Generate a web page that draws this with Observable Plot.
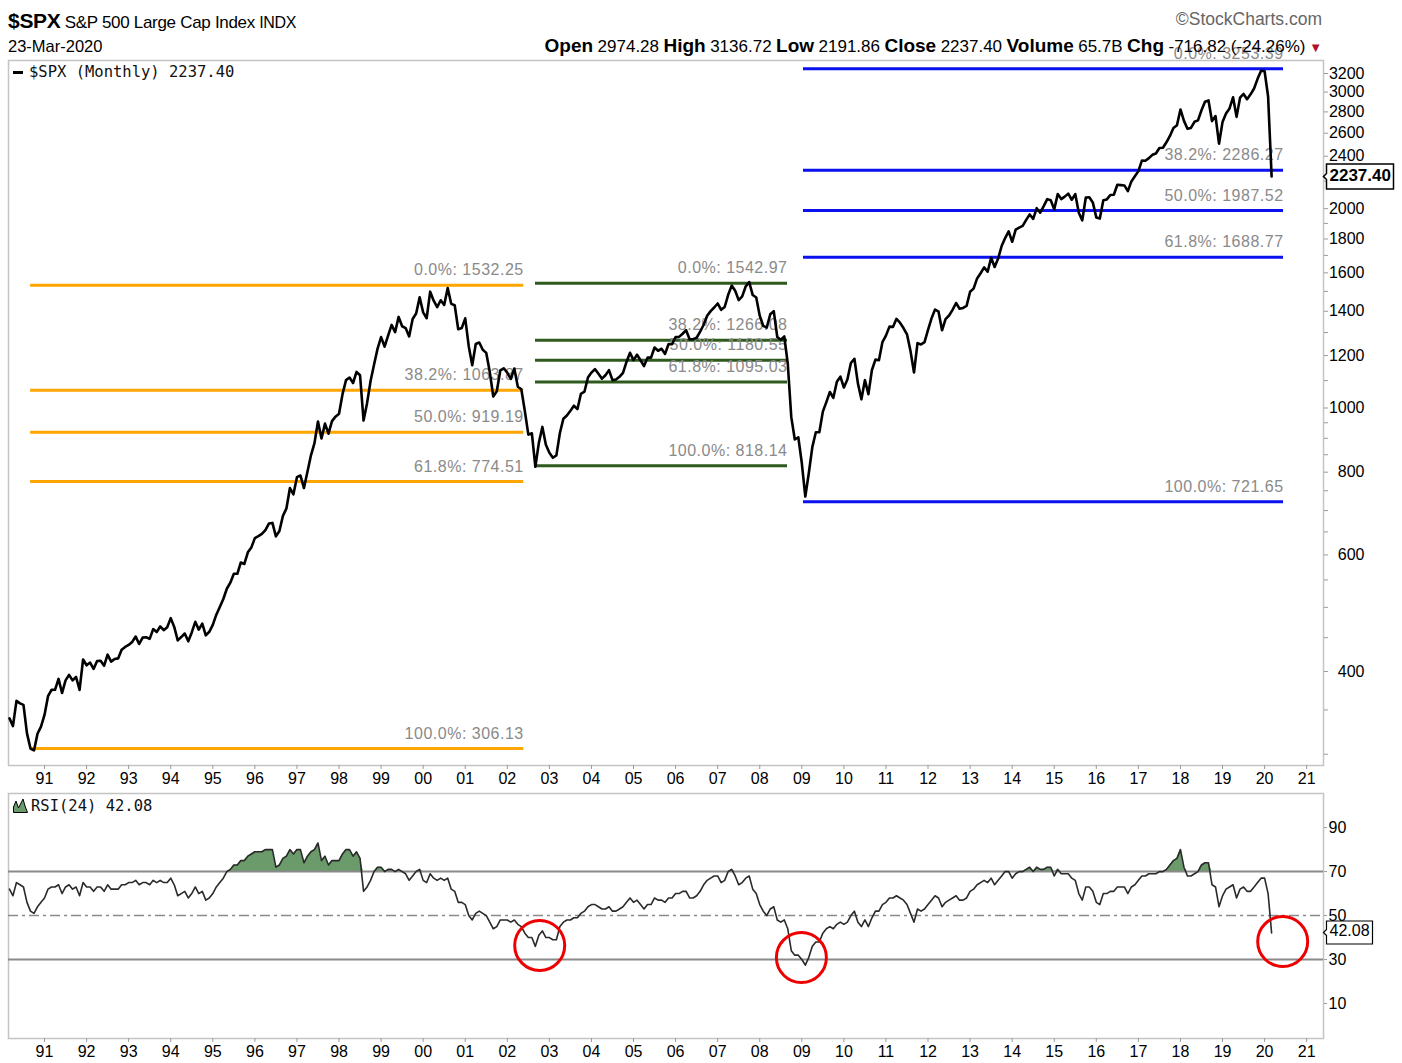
<!DOCTYPE html>
<html>
<head>
<meta charset="utf-8">
<script src="https://cdn.jsdelivr.net/npm/d3@7"></script>
<script src="https://cdn.jsdelivr.net/npm/@observablehq/plot@0.6"></script>
<style>
  body { margin: 0; background: #fff; }
  #root { position: relative; width: 1402px; height: 1063px; overflow: hidden;
          font-family: "Liberation Sans Narrow", "Arial Narrow", "Liberation Sans", Arial, sans-serif; }
  .abs { position: absolute; white-space: nowrap; line-height: 1; z-index: 5; }
  .mono { font-family: "DejaVu Sans Mono", monospace; font-size: 15.5px; color: #111; }
  #chartMain { position: absolute; left: 0; top: 0; }
  #chartRsi { position: absolute; left: 0; top: 790px; }
  .b { font-weight: bold; font-size: 19px; }
  .v { font-size: 17px; }
</style>
</head>
<body>
<div id="root">
  <div id="chartMain"></div>
  <div id="chartRsi"></div>

  <div class="abs" style="left:8px; top:10px; letter-spacing:-0.3px;">
    <span style="font-weight:bold; font-size:21px;">$SPX</span>
    <span style="font-size:17px;">S&amp;P 500 Large Cap Index</span>
    <span style="font-size:16px;">INDX</span>
  </div>
  <div class="abs" style="right:80px; top:11px; font-size:17.5px; color:#666;">&copy;StockCharts.com</div>
  <div class="abs" style="left:8px; top:38px; font-size:16.5px;">23-Mar-2020</div>
  <div class="abs" style="right:80px; top:36px;">
    <span class="b">Open</span> <span class="v">2974.28</span>
    <span class="b">High</span> <span class="v">3136.72</span>
    <span class="b">Low</span> <span class="v">2191.86</span>
    <span class="b">Close</span> <span class="v">2237.40</span>
    <span class="b">Volume</span> <span class="v">65.7B</span>
    <span class="b">Chg</span> <span class="v">-716.82 (-24.26%)</span><span style="color:#b0102a; font-size:13px;"> &#9660;</span>
  </div>
  <div class="abs mono" style="left:13px; top:65px;">
    <span style="display:inline-block; width:10px; height:3px; background:#000; vertical-align:middle; margin-right:6px;"></span>$SPX (Monthly) 2237.40
  </div>
  <div class="abs mono" style="left:13px; top:798px;">
    <svg width="15" height="15" style="vertical-align:-2px; margin-right:3px;"><path d="M0.5,14.5 L0.5,9 L3,3 L5.5,10 L8,5 L10,1 L12,8 L14.5,14.5 Z" fill="#6b9a6b" stroke="#000" stroke-width="1"/></svg>RSI(24) 42.08
  </div>
</div>

<script>
// ---------------- DATA ----------------
// S&P 500 monthly closes, March 1990 .. March 2020
const firstMonth = { year: 1990, month: 3 };
const spxMonthlyClose = [
  // 1990 (Mar–Dec)
  339.94, 330.80, 361.23, 358.02, 356.15, 322.56, 306.05, 304.00, 322.22, 330.22,
  // 1991
  343.93, 367.07, 375.22, 375.35, 389.83, 371.16, 387.81, 395.43, 387.86, 392.46, 375.22, 417.09,
  // 1992
  408.79, 412.70, 403.69, 414.95, 415.35, 408.14, 424.21, 414.03, 417.80, 418.68, 431.35, 435.71,
  // 1993
  438.78, 443.38, 451.67, 440.19, 450.19, 450.53, 448.13, 463.56, 458.93, 467.83, 461.79, 466.45,
  // 1994
  481.61, 467.14, 445.77, 450.91, 456.50, 444.27, 458.26, 475.49, 462.69, 472.35, 453.69, 459.27,
  // 1995
  470.42, 487.39, 500.71, 514.71, 533.40, 544.75, 562.06, 561.88, 584.41, 581.50, 605.37, 615.93,
  // 1996
  636.02, 640.43, 645.50, 654.17, 669.12, 670.63, 639.95, 651.99, 687.33, 705.27, 757.02, 740.74,
  // 1997
  786.16, 790.82, 757.12, 801.34, 848.28, 885.14, 954.29, 899.47, 947.28, 914.62, 955.40, 970.43,
  // 1998
  980.28, 1049.34, 1101.75, 1111.75, 1090.82, 1133.84, 1120.67, 957.28, 1017.01, 1098.67, 1163.63, 1229.23,
  // 1999
  1279.64, 1238.33, 1286.37, 1335.18, 1301.84, 1372.71, 1328.72, 1320.41, 1282.71, 1362.93, 1388.91, 1469.25,
  // 2000
  1394.46, 1366.42, 1498.58, 1452.43, 1420.60, 1454.60, 1430.83, 1517.68, 1436.51, 1429.40, 1314.95, 1320.28,
  // 2001
  1366.01, 1239.94, 1160.33, 1249.46, 1255.82, 1224.38, 1211.23, 1133.58, 1040.94, 1059.78, 1139.45, 1148.08,
  // 2002
  1130.20, 1106.73, 1147.39, 1076.92, 1067.14, 989.82, 911.62, 916.07, 815.28, 885.76, 936.31, 879.82,
  // 2003
  855.70, 841.15, 848.18, 916.92, 963.59, 974.50, 990.31, 1008.01, 995.97, 1050.71, 1058.20, 1111.92,
  // 2004
  1131.13, 1144.94, 1126.21, 1107.30, 1120.68, 1140.84, 1101.72, 1104.24, 1114.58, 1130.20, 1173.82, 1211.92,
  // 2005
  1181.27, 1203.60, 1180.59, 1156.85, 1191.50, 1191.33, 1234.18, 1220.33, 1228.81, 1207.01, 1249.48, 1248.29,
  // 2006
  1280.08, 1280.66, 1294.83, 1310.61, 1270.09, 1270.20, 1276.66, 1303.82, 1335.85, 1377.94, 1400.63, 1418.30,
  // 2007
  1438.24, 1406.82, 1420.86, 1482.37, 1530.62, 1503.35, 1455.27, 1473.99, 1526.75, 1549.38, 1481.14, 1468.36,
  // 2008
  1378.55, 1330.63, 1322.70, 1385.59, 1400.38, 1280.00, 1267.38, 1282.83, 1166.36, 968.75, 896.24, 903.25,
  // 2009
  825.88, 735.09, 797.87, 872.81, 919.14, 919.32, 987.48, 1020.62, 1057.08, 1036.19, 1095.63, 1115.10,
  // 2010
  1073.87, 1104.49, 1169.43, 1186.69, 1089.41, 1030.71, 1101.60, 1049.33, 1141.20, 1183.26, 1180.55, 1257.64,
  // 2011
  1286.12, 1327.22, 1325.83, 1363.61, 1345.20, 1320.64, 1292.28, 1218.89, 1131.42, 1253.30, 1246.96, 1257.60,
  // 2012
  1312.41, 1365.68, 1408.47, 1397.91, 1310.33, 1362.16, 1379.32, 1406.58, 1440.67, 1412.16, 1416.18, 1426.19,
  // 2013
  1498.11, 1514.68, 1569.19, 1597.57, 1630.74, 1606.28, 1685.73, 1632.97, 1681.55, 1756.54, 1805.81, 1848.36,
  // 2014
  1782.59, 1859.45, 1872.34, 1883.95, 1923.57, 1960.23, 1930.67, 2003.37, 1972.29, 2018.05, 2067.56, 2058.90,
  // 2015
  1994.99, 2104.50, 2067.89, 2085.51, 2107.39, 2063.11, 2103.84, 1972.18, 1920.03, 2079.36, 2080.41, 2043.94,
  // 2016
  1940.24, 1932.23, 2059.74, 2065.30, 2096.95, 2098.86, 2173.60, 2170.95, 2168.27, 2126.15, 2198.81, 2238.83,
  // 2017
  2278.87, 2363.64, 2362.72, 2384.20, 2411.80, 2423.41, 2470.30, 2471.65, 2519.36, 2575.26, 2647.58, 2673.61,
  // 2018
  2823.81, 2713.83, 2640.87, 2648.05, 2705.27, 2718.37, 2816.29, 2901.52, 2913.98, 2711.74, 2760.17, 2506.85,
  // 2019
  2704.10, 2784.49, 2834.40, 2945.83, 2752.06, 2941.76, 2980.38, 2926.46, 2976.74, 3037.56, 3140.98, 3230.78,
  // 2020 (Jan–Mar)
  3225.52, 2954.22, 2237.40
];

// RSI(24) monthly values, March 1990 .. March 2020
const rsi24 = [
  // 1990 (Mar–Dec)
  62, 59, 65, 64, 63, 56, 52, 51, 54, 56,
  // 1991
  58, 62, 63, 63, 64, 60, 63, 64, 62, 63, 59, 65,
  // 1992
  63, 63, 61, 63, 63, 61, 64, 62, 62, 62, 64, 64,
  // 1993
  65, 65, 66, 64, 65, 65, 64, 66, 65, 66, 65, 65,
  // 1994
  67, 64, 59, 60, 61, 58, 60, 63, 60, 61, 57, 58,
  // 1995
  60, 63, 65, 67, 70, 71, 73, 73, 75, 75, 77, 78,
  // 1996
  79, 79, 79, 80, 80, 80, 72, 73, 76, 77, 80, 78,
  // 1997
  80, 80, 74, 77, 79, 80, 83, 75, 77, 73, 75, 75,
  // 1998
  75, 78, 80, 80, 77, 79, 76, 61, 63, 66, 70, 72,
  // 1999
  72, 70, 71, 71, 70, 71, 70, 69, 66, 68, 70, 71,
  // 2000
  66, 65, 69, 67, 66, 67, 66, 67, 62, 61, 56, 56,
  // 2001
  55, 50, 48, 51, 52, 51, 50, 47, 44, 45, 48, 48,
  // 2002
  48, 47, 48, 46, 45, 42, 40, 40, 36, 41, 43, 40,
  // 2003
  40, 39, 39, 45, 47, 48, 48, 49, 49, 51, 52, 54,
  // 2004
  55, 55, 54, 53, 53, 54, 52, 52, 53, 54, 56, 58,
  // 2005
  56, 57, 55, 53, 55, 55, 58, 57, 57, 56, 58, 58,
  // 2006
  60, 60, 61, 61, 58, 58, 59, 61, 64, 66, 67, 68,
  // 2007
  68, 65, 66, 70, 71, 68, 64, 65, 67, 68, 62, 60,
  // 2008
  55, 52, 50, 53, 54, 48, 47, 48, 44, 34, 32, 32,
  // 2009
  30, 27.5, 31, 36, 38, 38, 42, 44, 45, 44, 46, 47,
  // 2010
  46, 47, 50, 52, 47, 45, 48, 45, 49, 52, 52, 55,
  // 2011
  56, 58, 58, 59, 58, 57, 55, 51, 47, 53, 52, 53,
  // 2012
  55, 57, 59, 58, 54, 56, 57, 58, 59, 57, 57, 58,
  // 2013
  61, 62, 64, 65, 66, 65, 67, 64, 66, 68, 70, 70,
  // 2014
  67, 69, 70, 70, 71, 72, 70, 72, 71, 71, 72, 72,
  // 2015
  68, 71, 69, 69, 69, 67, 66, 60, 57, 63, 63, 61,
  // 2016
  56, 55, 60, 60, 61, 61, 63, 63, 63, 60, 63, 64,
  // 2017
  66, 68, 68, 69, 69, 69, 70, 70, 71, 73, 75, 76,
  // 2018
  80, 72, 68, 68, 69, 70, 73, 74, 74, 64, 63, 54,
  // 2019
  59, 62, 63, 64, 58, 62, 63, 61, 61, 63, 65, 67,
  // 2020 (Jan–Mar)
  67, 60, 42.08
];

// Fibonacci retracement studies
const fibPercents = ["0.0%", "38.2%", "50.0%", "61.8%", "100.0%"];
const fibOrangeLevels = [1532.25, 1063.87, 919.19, 774.51, 306.13];
const fibGreenLevels  = [1542.97, 1266.08, 1180.55, 1095.03, 818.14];
const fibBlueLevels   = [3253.39, 2286.27, 1987.52, 1688.77, 721.65];
const fibOrangeSpan = [1990.67, 2002.39];
const fibGreenSpan  = [2002.67, 2008.66];
const fibBlueSpan   = [2009.04, 2020.45];

// Axis ticks
const yearTicks = d3.range(1991, 2022);
const priceTickLabels = [400, 600, 800, 1000, 1200, 1400, 1600, 1800, 2000, 2400, 2600, 2800, 3000, 3200];
const priceMinorTicks = [300, 350, 400, 450, 500, 550, 600, 650, 700, 750, 800, 850, 900, 950, 1000, 1100, 1200, 1300, 1400, 1500, 1600, 1700, 1800, 1900, 2000, 2200, 2400, 2600, 2800, 3000, 3200];
const rsiTickLabels = [10, 30, 50, 70, 90];
const rsiBands = [30, 70];
const rsiMid = [50];

// Annotation circles (year, RSI value)
const circleYears  = [2002.77, 2008.99, 2020.43];
const circleValues = [36.4, 30.9, 38.2];

const lastClose = 2237.40;
const lastRsi = 42.08;

// ---------------- BUILD ----------------
const toYear = i => firstMonth.year + (firstMonth.month - 1 + i) / 12;
const priceRows = spxMonthlyClose.map((v, i) => ({ t: toYear(i), v }));
const rsiRows = rsi24.map((v, i) => ({ t: toYear(i), v }));
const circleRows = circleYears.map((t, i) => ({ t, v: circleValues[i] }));

const xDomain = [1990.144, 2021.40];
const fmtYear = d => String(d % 100).padStart(2, "0");
const NARROW = '"Liberation Sans Narrow", "Arial Narrow", "Liberation Sans", Arial, sans-serif';
const SANS = '"Liberation Sans", Arial, sans-serif';

function fibMarks(levels, span, color) {
  const rows = levels.map((v, i) => ({ y: v, x1: span[0], x2: span[1], label: `${fibPercents[i]}: ${v.toFixed(2)}` }));
  return [
    Plot.ruleY(rows, { y: "y", x1: "x1", x2: "x2", stroke: color, strokeWidth: 3 }),
    Plot.text(rows, { x: "x2", y: "y", text: "label", textAnchor: "end", dy: -15, fill: "#8a8a8a",
                      fontSize: 16, fontFamily: SANS })
  ];
}

const mainChart = Plot.plot({
  width: 1402, height: 790,
  marginLeft: 8, marginRight: 79, marginTop: 60, marginBottom: 25,
  x: { domain: xDomain, axis: null },
  y: { type: "log", domain: [288.5, 3348], axis: null },
  style: { fontFamily: NARROW, fontSize: "16px", color: "#000", background: "transparent", overflow: "visible" },
  marks: [
    Plot.frame({ stroke: "#c4c4c4", strokeWidth: 1.5 }),
    Plot.axisX({ anchor: "bottom", ticks: yearTicks, tickFormat: fmtYear, tickSize: 4, tickPadding: 3,
                 stroke: "#9a9a9a", fontSize: 16, fontFamily: NARROW, label: null }),
    Plot.axisY({ anchor: "right", ticks: priceMinorTicks, tickSize: 4, tickFormat: () => "", fill: "none", stroke: "#9a9a9a", label: null }),
    Plot.text(priceTickLabels, { y: d => d, frameAnchor: "right", dx: 41, textAnchor: "end",
                                 text: d => String(d), fontSize: 16, fontFamily: SANS }),
    ...fibMarks(fibOrangeLevels, fibOrangeSpan, "#ffa500"),
    ...fibMarks(fibGreenLevels, fibGreenSpan, "#2f5a1e"),
    ...fibMarks(fibBlueLevels, fibBlueSpan, "#0a10ee"),
    Plot.line(priceRows, { x: "t", y: "v", stroke: "#000", strokeWidth: 2.6 }),
    Plot.tip([lastClose], { y: d => d, frameAnchor: "right", anchor: "left", title: d => d.toFixed(2),
                            fill: "#fff", stroke: "#000", strokeWidth: 1.5, pointerSize: 6, textPadding: 3,
                            fontSize: 17, fontWeight: "bold", fontFamily: SANS, pathFilter: "none" })
  ]
});

const rsiChart = Plot.plot({
  width: 1402, height: 273,
  marginLeft: 8, marginRight: 79, marginTop: 3, marginBottom: 25,
  x: { domain: xDomain, axis: null },
  y: { domain: [-5.9, 105.5], axis: null },
  style: { fontFamily: NARROW, fontSize: "16px", color: "#000", background: "transparent", overflow: "visible" },
  marks: [
    Plot.frame({ stroke: "#c4c4c4", strokeWidth: 1.5 }),
    Plot.areaY(rsiRows, { x: "t", y1: 70, y2: d => Math.max(70, d.v), fill: "#6b9a6b" }),
    Plot.ruleY(rsiBands, { stroke: "#8a8a8a", strokeWidth: 2 }),
    Plot.ruleY(rsiMid, { stroke: "#8a8a8a", strokeWidth: 1.5, strokeDasharray: "10,4,3,4" }),
    Plot.line(rsiRows, { x: "t", y: "v", stroke: "#2a2a2a", strokeWidth: 1.6 }),
    Plot.dot(circleRows, { x: "t", y: "v", r: 25, stroke: "#ee0000", strokeWidth: 3, fill: "none" }),
    Plot.axisX({ anchor: "bottom", ticks: yearTicks, tickFormat: fmtYear, tickSize: 4, tickPadding: 3,
                 stroke: "#9a9a9a", fontSize: 16, fontFamily: NARROW, label: null }),
    Plot.axisY({ anchor: "right", ticks: rsiTickLabels, tickSize: 3, tickFormat: () => "", fill: "none", stroke: "#9a9a9a", label: null }),
    Plot.text(rsiTickLabels, { y: d => d, frameAnchor: "right", dx: 5, textAnchor: "start",
                               text: d => String(d), fontSize: 16, fontFamily: SANS }),
    Plot.tip([lastRsi], { y: d => d, frameAnchor: "right", anchor: "left", title: d => d.toFixed(2),
                          fill: "#fff", stroke: "#000", strokeWidth: 1.2, pointerSize: 6, textPadding: 3,
                          fontSize: 16, fontFamily: SANS, pathFilter: "none" })
  ]
});

document.getElementById("chartMain").appendChild(mainChart);
document.getElementById("chartRsi").appendChild(rsiChart);
d3.select(mainChart).selectAll("text")
  .filter(function () { return /%: /.test(this.textContent); })
  .attr("letter-spacing", "0.5px");
</script>
</body>
</html>
